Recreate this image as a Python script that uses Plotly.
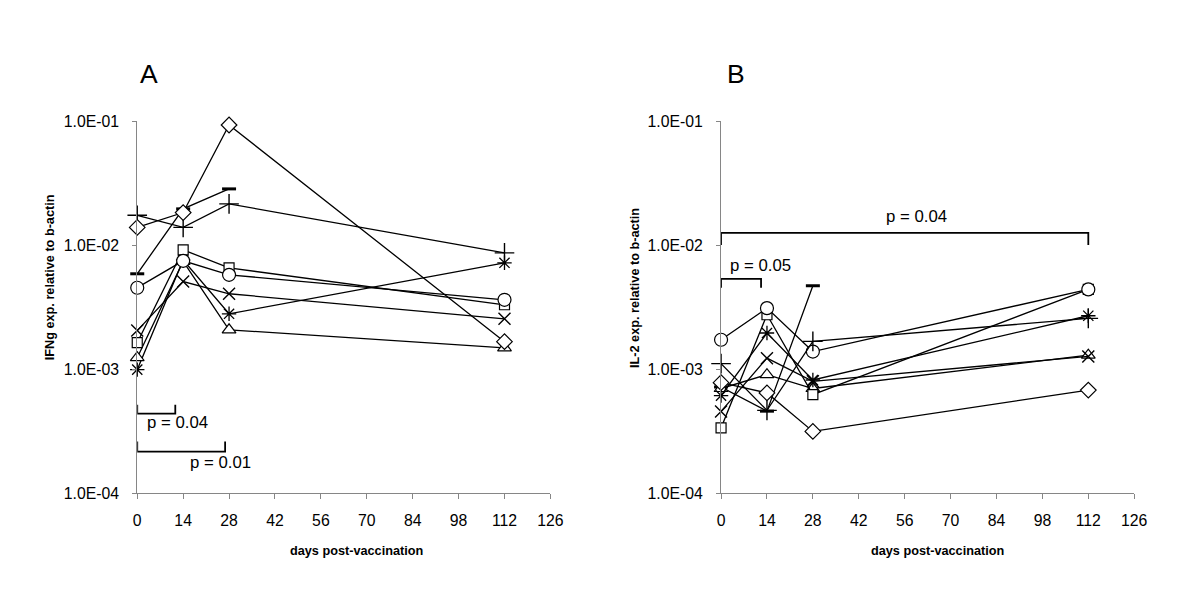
import math
import plotly.graph_objects as go

# ---------------- data ----------------
days = [0, 14, 28, 112]

# Panel A: IFNg expression relative to b-actin
ifng_diamond = [0.0139, 0.0183, 0.0929, 0.00167]
ifng_square = [0.00164, 0.00917, 0.00656, 0.00331]
ifng_triangle = [0.00124, 0.0074, 0.00208, 0.00149]
ifng_x = [0.00205, 0.00509, 0.00406, 0.00255]
ifng_asterisk = [0.000993, 0.0076, 0.0028, 0.00721]
ifng_circle = [0.00454, 0.00748, 0.00577, 0.00363]
ifng_plus = [0.0174, 0.0139, 0.0215, 0.00867]
ifng_dash = [0.00588, 0.0196, 0.0284, None]

# Panel B: IL-2 expression relative to b-actin
il2_diamond = [0.00078, 0.000645, 0.000316, 0.00068]
il2_square = [0.000337, 0.00275, 0.000625, 0.0044]
il2_triangle = [0.0007, 0.000906, 0.0007, 0.0013]
il2_x = [0.000458, 0.00123, 0.0008, 0.00127]
il2_asterisk = [0.000614, 0.00196, 0.00082, 0.0027]
il2_circle = [0.00173, 0.00311, 0.00139, 0.0044]
il2_plus = [0.00111, 0.000467, 0.00168, 0.00257]
il2_dash = [0.00072, 0.00046, 0.00471, None]

x_ticks = [0, 14, 28, 42, 56, 70, 84, 98, 112, 126]
y_tickvals = [1e-4, 1e-3, 1e-2, 1e-1]
y_ticktext = ["1.0E-04", "1.0E-03", "1.0E-02", "1.0E-01"]

# significance brackets: (x0, x1, bar value, tick-end value, label, label x, label y)
brackets_a = [
    (0, 11.6, 0.00044, 0.000519, "p = 0.04", 12.2, 0.000372),
    (0, 26.8, 0.000217, 0.000262, "p = 0.01", 25.3, 0.000178),
]
brackets_b = [
    (0, 112, 0.01256, 0.01005, "p = 0.04", 59.6, 0.0169),
    (0, 12.2, 0.00536, 0.00454, "p = 0.05", 11.9, 0.00682),
]

# ---------------- styles ----------------
FONT = "Arial, Liberation Sans, sans-serif"
styles = {
    "diamond": dict(symbol="diamond", size=12, color="white", line=dict(color="black", width=1.2)),
    "square": dict(symbol="square", size=10, color="white", line=dict(color="black", width=1.2)),
    "triangle": dict(symbol="triangle-up", size=12, color="white", line=dict(color="black", width=1.2)),
    "x": dict(symbol="x-thin", size=12, color="black", line=dict(color="black", width=1.4)),
    "asterisk": dict(symbol="asterisk", size=12, color="black", line=dict(color="black", width=1.3)),
    "circle": dict(symbol="circle", size=13, color="white", line=dict(color="black", width=1.2)),
    "plus": dict(symbol="cross-thin", size=14, color="black", line=dict(color="black", width=1.4)),
    "dash": dict(symbol="line-ew", size=10, color="black", line=dict(color="black", width=3)),
}

series_a = [
    ("dash", ifng_dash), ("plus", ifng_plus), ("x", ifng_x), ("asterisk", ifng_asterisk),
    ("triangle", ifng_triangle), ("square", ifng_square), ("circle", ifng_circle),
    ("diamond", ifng_diamond),
]
series_b = [
    ("dash", il2_dash), ("triangle", il2_triangle), ("x", il2_x), ("asterisk", il2_asterisk),
    ("square", il2_square), ("circle", il2_circle), ("plus", il2_plus), ("diamond", il2_diamond),
]

fig = go.Figure()

# brackets drawn as line traces on the data axes
for brs, xa, ya in [(brackets_a, "x", "y"), (brackets_b, "x2", "y2")]:
    for x0, x1, yb, yt, label, lx, ly in brs:
        fig.add_trace(go.Scatter(x=[x0, x0, x1, x1], y=[yt, yb, yb, yt], mode="lines",
                                 xaxis=xa, yaxis=ya, line=dict(color="black", width=1.8),
                                 showlegend=False, hoverinfo="skip"))

for name, vals in series_a:
    fig.add_trace(go.Scatter(x=days, y=vals, mode="lines+markers", xaxis="x", yaxis="y",
                             line=dict(color="black", width=1.3), marker=styles[name],
                             cliponaxis=False, showlegend=False, connectgaps=False))
for name, vals in series_b:
    fig.add_trace(go.Scatter(x=days, y=vals, mode="lines+markers", xaxis="x2", yaxis="y2",
                             line=dict(color="black", width=1.3), marker=styles[name],
                             cliponaxis=False, showlegend=False, connectgaps=False))

# layout placement (target pixel positions in the final 1200x615 picture)
W, H = 1180, 595
OX, SX = 10.5, 0.9876
OY, SY = 15.8, 0.973
def px(x):
    return ((x - OX) / SX) / W
def py(y):
    return 1 - ((y - OY) / SY) / H

xdom_a = [px(136), px(550)]
xdom_b = [px(721), px(1135)]
ydom = [py(494), py(121)]

axis_common = dict(showline=True, linecolor="#868686", linewidth=1, ticks="outside",
                   ticklen=5, tickcolor="#868686", showgrid=False, zeroline=False,
                   tickfont=dict(family=FONT, size=15.8, color="black"))

x_common = dict(axis_common, range=[0, 126], tickvals=x_ticks, ticklabelstandoff=8)
y_common = dict(axis_common, type="log", range=[-4, -1], tickvals=y_tickvals,
                ticktext=y_ticktext, ticklen=4, ticklabelstandoff=10)

fig.update_layout(
    width=W, height=H, margin=dict(l=0, r=0, t=0, b=0), autosize=False,
    paper_bgcolor="white", plot_bgcolor="white",
    xaxis=dict(x_common, domain=xdom_a, anchor="y"),
    yaxis=dict(y_common, domain=ydom, anchor="x"),
    xaxis2=dict(x_common, domain=xdom_b, anchor="y2"),
    yaxis2=dict(y_common, domain=ydom, anchor="x2"),
    font=dict(family=FONT, color="black"),
)

annotations = []
for brs, xr, yr in [(brackets_a, "x", "y"), (brackets_b, "x2", "y2")]:
    for x0, x1, yb, yt, label, lx, ly in brs:
        annotations.append(dict(xref=xr, yref=yr, x=lx, y=math.log10(ly), text=label,
                                xanchor="center", yanchor="middle", showarrow=False,
                                font=dict(family=FONT, size=16.8, color="black")))

def paper_text(x, y, text, size, angle=0):
    return dict(xref="paper", yref="paper", x=px(x), y=py(y), text=text, textangle=angle,
                xanchor="center", yanchor="middle", showarrow=False,
                font=dict(family=FONT, size=size, color="black"))

annotations += [
    paper_text(148, 74, "A", 26.5),
    paper_text(736, 74, "B", 26.5),
    paper_text(48, 277, "<b>IFNg exp. relative to b-actin</b>", 12.7, -90),
    paper_text(635, 288, "<b>IL-2 exp. relative to b-actin</b>", 12.7, -90),
    paper_text(356, 552, "<b>days post-vaccination</b>", 12.7),
    paper_text(938, 552, "<b>days post-vaccination</b>", 12.7),
]

fig.update_layout(annotations=annotations)
fig.write_html("out.html", config={"responsive": False})
